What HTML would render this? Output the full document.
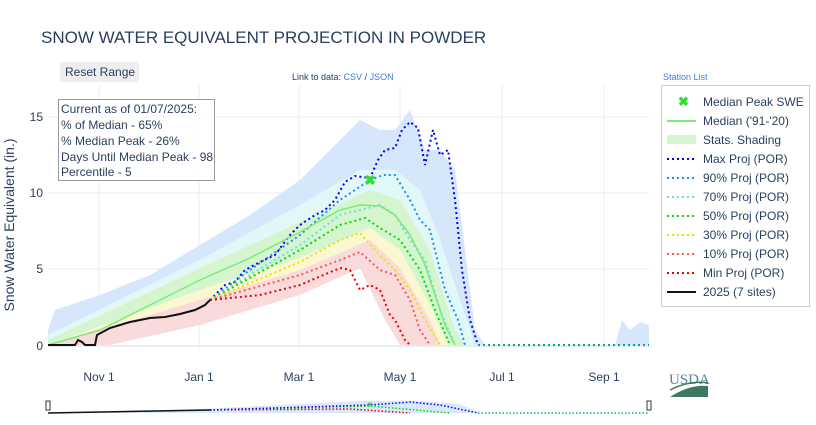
<!DOCTYPE html>
<html><head><meta charset="utf-8"><style>
body{margin:0;background:#fff;width:816px;height:420px;overflow:hidden;font-family:"Liberation Sans",sans-serif}
</style></head><body>
<svg width="816" height="420" xmlns="http://www.w3.org/2000/svg" font-family="Liberation Sans, sans-serif">
<text x="41" y="43" font-size="17" fill="#2a3f5f">SNOW WATER EQUIVALENT PROJECTION IN POWDER</text>
<rect x="60" y="62" width="79" height="20" rx="2" fill="#eeeeee"/>
<text x="65" y="76" font-size="12" fill="#2a3f5f">Reset Range</text>
<text x="292" y="80" font-size="9" fill="#2a3f5f">Link to data: <tspan fill="#3b7ddd">CSV</tspan> / <tspan fill="#3b7ddd">JSON</tspan></text>
<text x="663" y="80" font-size="9" fill="#3b7ddd">Station List</text>
<g stroke="#e8ecf5" stroke-width="1">
<line x1="99" y1="85" x2="99" y2="350"/><line x1="199" y1="85" x2="199" y2="350"/><line x1="299" y1="85" x2="299" y2="350"/><line x1="400" y1="85" x2="400" y2="350"/><line x1="502" y1="85" x2="502" y2="350"/><line x1="604" y1="85" x2="604" y2="350"/>
<line x1="48" y1="117" x2="649" y2="117"/><line x1="48" y1="193" x2="649" y2="193"/><line x1="48" y1="269" x2="649" y2="269"/>
</g>
<line x1="48" y1="346" x2="649" y2="346" stroke="#e8ecf5" stroke-width="2"/>
<polygon fill="#d6e6fb" points="48,330 55,310 100,295 150,275 200,245 250,215 300,180 340,140 360,120 380,130 395,130 410,110 425,150 440,150 455,170 465,250 475,330 485,345 475,345 460,300 440,240 420,190 395,170 360,170 300,205 200,260 48,335"/>
<polygon fill="#d6e6fb" points="615,345 622,320 630,330 640,322 649,325 649,345"/>
<polygon fill="#e2f8f8" points="48,335 200,260 300,205 360,170 395,170 420,190 440,240 460,300 475,345 465,345 455,330 430,250 400,200 370,190 300,222 200,268 48,340"/>
<polygon fill="#d5f5cf" points="48,340 200,268 300,222 370,190 400,200 430,250 455,330 465,345 448,345 430,305 400,250 370,228 300,258 200,290 48,345"/>
<polygon fill="#fbf7d0" points="48,345 200,290 300,258 370,228 400,250 430,305 448,345 440,345 430,320 400,268 370,240 300,270 200,300"/>
<polygon fill="#fadbdb" points="48,345 200,300 300,270 370,240 400,268 430,320 440,345 400,345 385,320 360,268 300,295 200,325 110,345"/>
<g fill="none" stroke-width="2" stroke-dasharray="2,3">
<polyline stroke="#0000ff" points="210,300 225,285 235,282 245,270 260,262 275,255 290,235 300,225 315,215 325,210 335,200 345,182 355,176 370,178 378,160 385,150 395,148 402,130 410,122 418,128 425,165 433,130 440,155 448,150 455,200 462,270 470,320 478,345"/>
<polyline stroke="#1a8cff" points="210,300 250,270 300,235 340,200 370,180 383,175 395,175 410,200 420,220 430,230 445,290 458,320 465,345"/>
<polyline stroke="#66e0e0" points="210,300 250,275 300,245 340,215 380,205 395,215 410,240 425,260 440,310 455,345"/>
<polyline stroke="#00dd00" points="210,300 300,250 340,225 365,218 380,228 400,240 420,270 435,310 450,345"/>
<polyline stroke="#f0e000" points="210,300 300,262 340,240 360,233 375,250 395,270 410,290 425,320 440,345"/>
<polyline stroke="#ff5555" points="210,300 300,275 340,260 360,252 380,270 395,275 410,300 420,330 430,345"/>
<polyline stroke="#ee0000" points="210,300 260,295 300,285 340,268 350,270 360,290 370,285 380,290 390,315 395,320 400,330 405,340 410,345"/>
<polyline stroke="#00aa88" points="478,345 649,345"/>
</g>
<polyline fill="none" stroke="#7ee87e" stroke-width="1.5" points="48,345 100,330 150,305 200,280 250,258 300,232 340,210 360,205 380,206 395,215 410,235 425,265 435,295 445,325 455,345"/>
<polyline fill="none" stroke="#111" stroke-width="2" points="48,345 75,345 78,340 82,342 85,345 95,345 97,335 110,328 130,322 150,318 165,317 180,314 195,310 205,305 210,300"/>
<text x="370" y="185" font-size="14" fill="#33dd33" font-weight="bold" text-anchor="middle">✖</text>
<g font-size="12" fill="#2a3f5f" text-anchor="end">
<text x="43" y="121">15</text><text x="43" y="197">10</text><text x="43" y="273">5</text><text x="43" y="350">0</text>
</g>
<text transform="translate(14,225) rotate(-90)" font-size="14" fill="#2a3f5f" text-anchor="middle">Snow Water Equivalent (in.)</text>
<g font-size="12" fill="#2a3f5f" text-anchor="middle">
<text x="99" y="381">Nov  1</text><text x="199" y="381">Jan  1</text><text x="299" y="381">Mar  1</text><text x="400" y="381">May  1</text><text x="502" y="381">Jul  1</text><text x="604" y="381">Sep  1</text>
</g>
<rect x="58.5" y="99.5" width="156" height="81" fill="#fff" fill-opacity="0.8" stroke="#999"/>
<g font-size="12" fill="#2a3f5f">
<text x="61" y="113">Current as of 01/07/2025:</text>
<text x="61" y="129">% of Median - 65%</text>
<text x="61" y="145">% Median Peak - 26%</text>
<text x="61" y="161">Days Until Median Peak - 98</text>
<text x="61" y="176">Percentile - 5</text>
</g>
<rect x="661.5" y="85.5" width="148" height="221" fill="#fff" stroke="#ccc"/>
<g font-size="12" fill="#2a3f5f">
<text x="678" y="106" font-size="13" fill="#33dd33" font-weight="bold">✖</text><text x="703" y="106">Median Peak SWE</text>
<line x1="667" y1="121" x2="696" y2="121" stroke="#7ee87e" stroke-width="2"/><text x="703" y="125">Median ('91-'20)</text>
<rect x="667" y="135" width="29" height="9" fill="#d5f5cf"/><text x="703" y="144">Stats. Shading</text>
<g fill="none" stroke-width="2" stroke-dasharray="2,3">
<line x1="667" y1="159" x2="696" y2="159" stroke="#0000ff"/>
<line x1="667" y1="178" x2="696" y2="178" stroke="#1a8cff"/>
<line x1="667" y1="197" x2="696" y2="197" stroke="#66e0e0"/>
<line x1="667" y1="216" x2="696" y2="216" stroke="#00dd00"/>
<line x1="667" y1="235" x2="696" y2="235" stroke="#f0e000"/>
<line x1="667" y1="254" x2="696" y2="254" stroke="#ff5555"/>
<line x1="667" y1="273" x2="696" y2="273" stroke="#ee0000"/>
</g>
<line x1="667" y1="292" x2="696" y2="292" stroke="#111" stroke-width="2"/>
<text x="703" y="163">Max Proj (POR)</text><text x="703" y="182">90% Proj (POR)</text><text x="703" y="201">70% Proj (POR)</text><text x="703" y="220">50% Proj (POR)</text><text x="703" y="239">30% Proj (POR)</text><text x="703" y="258">10% Proj (POR)</text><text x="703" y="277">Min Proj (POR)</text><text x="703" y="296">2025 (7 sites)</text>
</g>
<text x="669" y="384" font-size="15" fill="#5a7fa8" font-family="Liberation Serif, serif">USDA</text>
<path d="M670 397 Q690 384 708 386 L708 397 Z" fill="#3f7a5f"/>
<path d="M670 390 Q690 380 708 383" stroke="#3f7a5f" stroke-width="1.5" fill="none"/>
<rect x="46" y="401" width="4" height="9" fill="#fff" stroke="#333"/>
<rect x="647" y="401" width="4" height="9" fill="#fff" stroke="#333"/>
<polygon fill="#dbe8fb" points="48,413 200,409 300,404 360,401 420,401 460,404 480,413"/>
<polyline fill="none" stroke="#111" stroke-width="1.5" points="48,413 210,410"/>
<g fill="none" stroke-width="1.5" stroke-dasharray="1.5,2">
<polyline stroke="#ee0000" points="210,410 350,409 410,413"/>
<polyline stroke="#00dd00" points="210,410 370,406 450,413"/>
<polyline stroke="#0000ff" points="210,410 370,405 410,402 440,405 478,413"/>
<polyline stroke="#00aa88" points="478,413 649,413"/>
</g>
<text x="370" y="407" font-size="7" fill="#33dd33" text-anchor="middle">✖</text>
</svg>
</body></html>
